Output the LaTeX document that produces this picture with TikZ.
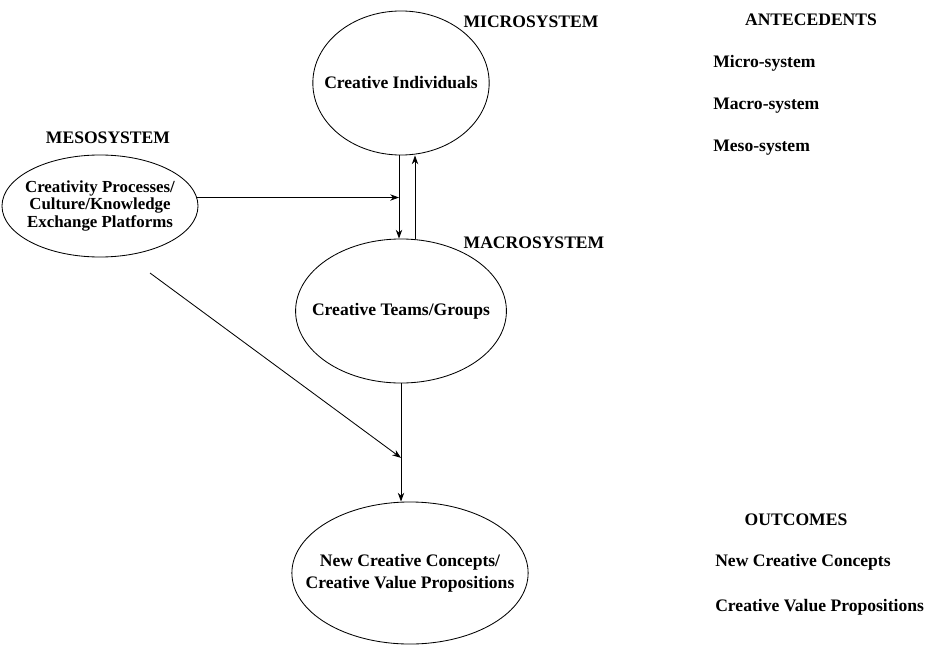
\documentclass[tikz,border=0pt]{standalone}
\usepackage{fontspec}
\setmainfont{Liberation Serif}
\usetikzlibrary{arrows.meta, shapes.geometric}

\begin{document}
\begin{tikzpicture}[
  x=0.025cm, y=-0.025cm,
  >={Stealth[length=2.2mm, width=1.6mm]},
  font=\fontsize{12.5}{14}\selectfont\bfseries,
  system/.style={ellipse, draw, line width=0.6pt, inner ysep=0pt, align=center},
  level/.style={inner sep=0pt},
  item/.style={anchor=west, inner sep=0pt},
  arr/.style={->, line width=0.6pt},
]
  \useasboundingbox (0,0) rectangle (925,644);

  % Systems
  \node[system, inner xsep=-0.36cm, minimum width=4.4cm, minimum height=3.6cm] (micro) at (401,83)
    {Creative Individuals};
  \node[system, inner xsep=-0.36cm, minimum width=5.25cm, minimum height=3.6cm] (macro) at (401,311)
    {Creative Teams/Groups};
  \node[system, inner xsep=-0.14cm, minimum width=4.85cm, minimum height=2.55cm,
    font=\fontsize{12}{12.4}\selectfont\bfseries] (meso) at (100,206)
    {Creativity Processes/\\Culture/Knowledge\\Exchange Platforms};
  \node[system, inner xsep=-0.52cm, minimum width=5.9cm, minimum height=3.55cm,
    font=\fontsize{12.5}{15.6}\selectfont\bfseries] (outcome) at (410,573)
    {New Creative Concepts/\\Creative Value Propositions};

  % System labels
  \node[level] (microlbl) at (531,22) {MICROSYSTEM};
  \node[level] (macrolbl) at (534,243) {MACROSYSTEM};
  \node[level] (mesolbl) at (108,138) {MESOSYSTEM};

  % Right-hand lists
  \node[level] (antlbl) at (811,20) {ANTECEDENTS};
  \node[item] (ant1) at (713,63) {Micro-system};
  \node[item] (ant2) at (713,106) {Macro-system};
  \node[item] (ant3) at (713,148) {Meso-system};
  \node[level] (outlbl) at (796,520) {OUTCOMES};
  \node[item] (out1) at (715,562) {New Creative Concepts};
  \node[item] (out2) at (715,607) {Creative Value Propositions};

  % Links
  \draw[arr] ([xshift=-0.05cm]micro.south) coordinate (d1) -- ([xshift=-0.05cm]macro.north);
  \draw[arr] ([xshift=0.35cm]macro.north) -- ([xshift=0.35cm]micro.south);
  \draw[arr] (meso.5) -- (meso.5 -| d1);
  \draw[arr] (macro.south) -- (macro.south |- outcome.north) coordinate[pos=0.63] (join);
  \coordinate (diagstart) at (150,273);
  \draw[arr] (diagstart) -- (join);

\end{tikzpicture}
\end{document}
